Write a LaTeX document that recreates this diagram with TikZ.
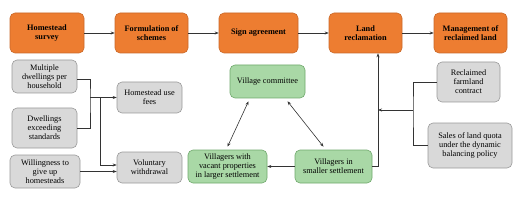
\documentclass[tikz,border=0pt]{standalone}
\usepackage{fontspec}
\setmainfont{Liberation Serif}
\usetikzlibrary{arrows.meta}
\definecolor{stageorange}{HTML}{ED7D31}
\definecolor{stageedge}{HTML}{C9692A}
\definecolor{actorgreen}{HTML}{A9D8A6}
\definecolor{actoredge}{HTML}{6FA86C}
\definecolor{factorgray}{HTML}{D9D9D9}
\definecolor{factoredge}{HTML}{999999}
\tikzset{
  box/.style={rounded corners=5pt, align=center, inner sep=1pt,
    font=\fontsize{8.3}{9}\selectfont, line width=0.6pt},
  stagebox/.style={box, fill=stageorange, draw=stageedge,
    font=\fontsize{8.3}{9.5}\selectfont\bfseries},
  factorbox/.style={box, fill=factorgray, draw=factoredge},
  actorbox/.style={box, fill=actorgreen, draw=actoredge},
  link/.style={draw=black!80, line width=0.6pt},
  arrow/.style={link, -{Stealth[length=4pt,width=3pt]}},
  twoway/.style={link, {Stealth[length=4pt,width=3pt]}-{Stealth[length=4pt,width=3pt]}}
}
\begin{document}
\begin{tikzpicture}[x=1pt,y=-1pt]
\useasboundingbox (0,0) rectangle (524,203);
% top row
\node[stagebox, minimum width=74pt, minimum height=40pt] (survey) at (47,33) {Homestead\\survey};
\node[stagebox, minimum width=73pt, minimum height=40pt] (scheme) at (151.5,33) {Formulation of\\schemes};
\node[stagebox, minimum width=79pt, minimum height=40pt] (sign) at (258.5,33) {Sign agreement};
\node[stagebox, minimum width=73pt, minimum height=40pt] (land) at (365.5,33) {Land\\reclamation};
\node[stagebox, minimum width=73pt, minimum height=40pt] (manage) at (470.5,33) {Management of\\reclaimed land};
\draw[arrow] (survey) -- (scheme);
\draw[arrow] (scheme) -- (sign);
\draw[arrow] (sign) -- (land);
\draw[arrow] (land) -- (manage);

% left factors
\node[factorbox, minimum width=65pt, minimum height=33pt] (multi) at (44.5,76.5) {Multiple\\dwellings per\\household};
\node[factorbox, minimum width=65pt, minimum height=40pt] (exceed) at (44.5,128) {Dwellings\\exceeding\\standards};
\node[factorbox, minimum width=70pt, minimum height=33pt] (willing) at (45,171.5) {Willingness to\\give up\\homesteads};
\node[factorbox, minimum width=65pt, minimum height=31pt] (fees) at (149.5,97.5) {Homestead use\\fees};
\node[factorbox, minimum width=65pt, minimum height=31pt] (withdraw) at (149.5,167.5) {Voluntary\\withdrawal};
\coordinate (busL) at (90,97.5);
\coordinate (splitL) at (100,97.5);
\draw[link] ([yshift=-3pt]multi.east) -| (busL) |- (exceed.east);
\draw[arrow] (busL) -- (fees.west);
\draw[arrow] (splitL) |- ([yshift=2.5pt]withdraw.west);
\draw[arrow] (willing.east) -- (withdraw.west |- willing.east);

% villagers
\node[actorbox, minimum width=75pt, minimum height=33pt] (committee) at (267.5,81.5) {Village committee};
\node[actorbox, minimum width=79pt, minimum height=33pt] (vacant) at (227.5,166.5) {Villagers with\\vacant properties\\in larger settlement};
\node[actorbox, minimum width=77pt, minimum height=33pt] (smaller) at (333.5,166.5) {Villagers in\\smaller settlement};
\draw[twoway] ([xshift=-19pt,yshift=-3pt]committee.south) -- ([yshift=3pt]vacant.north);
\draw[twoway] ([xshift=20pt,yshift=-3pt]committee.south) -- ([xshift=-10pt,yshift=3pt]smaller.north);
\draw[arrow] (smaller.west) -- (vacant.east);
\coordinate (rise) at ([xshift=12.5pt]land.south);
\draw[arrow] (smaller.east) -| (rise);

% right factors
\node[factorbox, minimum width=63pt, minimum height=40pt] (contract) at (468.5,82) {Reclaimed\\farmland\\contract};
\node[factorbox, minimum width=84pt, minimum height=45pt] (quota) at (470,145.5) {Sales of land quota\\under the dynamic\\balancing policy};
\coordinate (busR) at (413,110);
\draw[link] (contract.west) -| (busR) |- (quota.west);
\draw[arrow] (busR) -- (busR -| rise);
\end{tikzpicture}
\end{document}
